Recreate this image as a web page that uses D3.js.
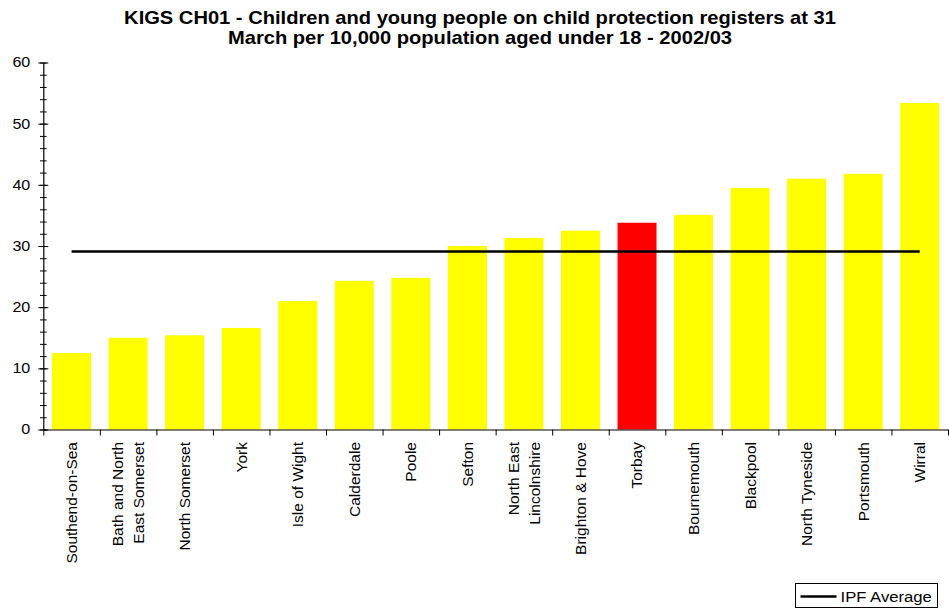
<!DOCTYPE html>
<html>
<head>
<meta charset="utf-8">
<script src="https://d3js.org/d3.v7.min.js"></script>
<style>
    body { margin: 0; background: #fff; }
    svg text { font-family: "Liberation Sans", Arial, sans-serif; fill: #000; }
</style>
</head>
<body>
<svg id="chart" width="949" height="614"></svg>
<script>
// chart data
const authorities = ["Southend-on-Sea", "Bath and North|East Somerset", "North Somerset", "York",
    "Isle of Wight", "Calderdale", "Poole", "Sefton", "North East|Lincolnshire", "Brighton & Hove",
    "Torbay", "Bournemouth", "Blackpool", "North Tyneside", "Portsmouth", "Wirral"]
const rates = [12.5, 15.0, 15.4, 16.6, 21.0, 24.3, 24.8, 30.0, 31.3, 32.5, 33.8, 35.1, 39.5, 41.0, 41.8, 53.4]
const ipfAverage = 29.1
const highlighted = "Torbay"
const yTicks = [0, 10, 20, 30, 40, 50, 60]
const yMinorTicks = d3.range(0, 61, 2)
const titleLines = ["KIGS CH01 - Children and young people on child protection registers at 31",
    "March per 10,000 population aged under 18 - 2002/03"]
const legendLabel = "IPF Average"

// layout (the source image is a bit wider than tall, so horizontal text gets stretched)
const stretch = 1.15
const plot = {left: 43.3, right: 948, top: 62.5, bottom: 429.5}
const svg = d3.select("#chart")

const xOuter = d3.scaleBand().domain(authorities).range([plot.left, plot.right])
const x = d3.scaleBand().domain(authorities).range([plot.left, plot.right])
    .paddingInner(0.31).paddingOuter(0.155)
const xEdges = d3.scaleLinear().domain([0, authorities.length]).range([plot.left, plot.right])
const y = d3.scaleLinear().domain([0, 60]).range([plot.bottom, plot.top])

// title
svg.append("g").selectAll("text")
    .data(titleLines)
    .join("text")
    .attr("transform", (d, i) => "translate(480," + (23.5 + i * 20) + ") scale(" + stretch + ",1)")
    .attr("text-anchor", "middle")
    .style("font-weight", "bold")
    .style("font-size", "17.5px")
    .text(d => d)

// bars
svg.append("g").selectAll("rect")
    .data(authorities)
    .join("rect")
    .attr("x", d => x(d))
    .attr("width", x.bandwidth())
    .attr("y", (d, i) => y(rates[i]))
    .attr("height", (d, i) => y(0) - y(rates[i]))
    .attr("fill", d => d == highlighted ? "#ff0000" : "#ffff00")

// average line, from first to last category centre
const avgLine = d3.line()
    .x(d => xOuter(d) + xOuter.bandwidth() / 2)
    .y(() => y(ipfAverage))
svg.append("path")
    .datum([authorities[0], authorities[authorities.length - 1]])
    .attr("d", avgLine)
    .attr("fill", "none")
    .attr("stroke", "#000")
    .attr("stroke-width", 2.6)

// y axis: minor ticks first, then major ticks with labels
const yMinor = svg.append("g")
    .attr("transform", "translate(" + plot.left + ",0)")
    .call(d3.axisLeft(y).tickValues(yMinorTicks).tickSize(3.3).tickFormat(""))
yMinor.select(".domain").remove()
yMinor.selectAll(".tick line").attr("x1", 3.3)

const yAxis = svg.append("g")
    .attr("transform", "translate(" + plot.left + ",0)")
    .call(d3.axisLeft(y).tickValues(yTicks).tickSize(5).tickSizeOuter(0).tickPadding(8))
yAxis.selectAll(".tick line").attr("x1", 5)
yAxis.select(".domain").attr("stroke-width", 1.2)
yAxis.selectAll(".tick text")
    .attr("font-family", null)
    .style("font-size", "14px")
    .attr("transform", "translate(-13,0) scale(" + stretch + ",1) translate(13,0)")

// x axis: ticks on the category boundaries
const xAxis = svg.append("g")
    .attr("transform", "translate(0," + plot.bottom + ")")
    .call(d3.axisBottom(xEdges).tickValues(d3.range(authorities.length + 1)).tickSize(6).tickSizeOuter(0).tickFormat(""))
xAxis.select(".domain").attr("stroke-width", 1.2)

// category labels, rotated, two lines where the name is split
const labels = svg.append("g").selectAll("text")
    .data(authorities)
    .join("text")
    .attr("transform", d => "translate(" + (xOuter(d) + xOuter.bandwidth() / 2) + ",442) rotate(-90)")
    .attr("text-anchor", "end")
    .style("font-size", "15.5px")
labels.each(function(d) {
    const parts = d.split("|")
    const t = d3.select(this)
    parts.forEach((p, i) => {
        t.append("tspan")
            .attr("x", 0)
            .attr("y", 0)
            .attr("dy", (0.35 + (i - (parts.length - 1) / 2) * 1.32) + "em")
            .text(p)
    })
})

// legend
const legend = svg.append("g").attr("transform", "translate(795.5,583.5)")
legend.append("rect")
    .attr("width", 142)
    .attr("height", 24)
    .attr("fill", "#fff")
    .attr("stroke", "#000")
legend.append("line")
    .attr("x1", 5).attr("x2", 41)
    .attr("y1", 13).attr("y2", 13)
    .attr("stroke", "#000")
    .attr("stroke-width", 2.6)
legend.append("text")
    .attr("transform", "translate(45,18.5) scale(" + stretch + ",1)")
    .style("font-size", "14.5px")
    .text(legendLabel)
</script>
</body>
</html>
